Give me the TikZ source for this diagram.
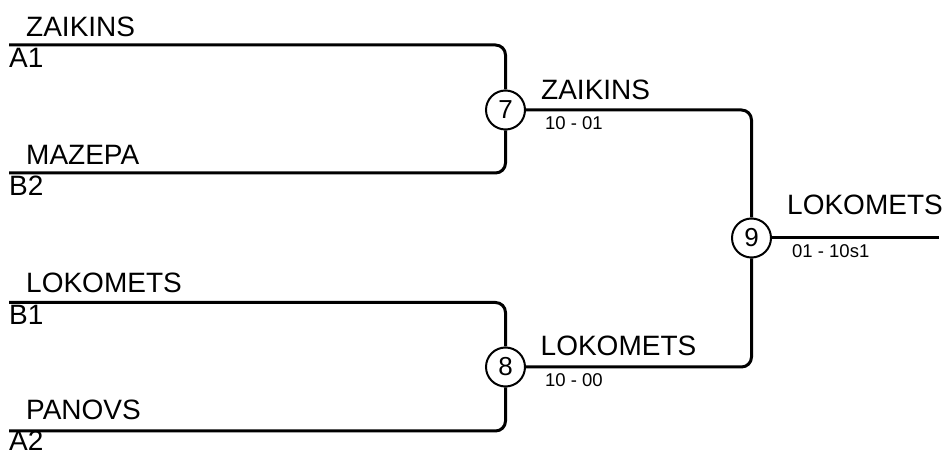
\documentclass[tikz,border=0pt]{standalone}
\usepackage{fontspec}
\setmainfont{Liberation Sans}
\usetikzlibrary{positioning}
\tikzset{x=1pt, y=-1pt, % one unit is one pixel of the sheet
  game/.style={ % the numbered match circles
    circle, draw, line width=2pt,
    minimum size=39pt, inner sep=0pt,
    fill=white,
    font=\fontsize{26}{26}\selectfont},
  team/.style={anchor=base west, inner sep=0pt,
    font=\fontsize{28}{28}\selectfont},
  score/.style={anchor=base west, inner sep=0pt,
    font=\fontsize{18.5}{18.5}\selectfont},
  bracket/.style={draw, line width=3pt, rounded corners=10pt}}

\begin{document}
\begin{tikzpicture}
    \useasboundingbox (0,0) rectangle (946,454);
    % entry lines
    \coordinate (e1) at (9,45);
    \coordinate (e2) at (9,173);
    \coordinate (e3) at (9,302.5);
    \coordinate (e4) at (9,431);
    \coordinate (fin) at (939,238);
    % matches
    \node[game] (g7) at (505.5,110) {7};
    \node[game] (g8) at (505.5,367) {8};
    \node[game] (g9) at (751.5,238) {9};
    \draw[bracket] (e1) -| (g7);
    \draw[bracket] (e2) -| (g7);
    \draw[bracket] (e3) -| (g8);
    \draw[bracket] (e4) -| (g8);
    \draw[bracket] (g7) -| (g9);
    \draw[bracket] (g8) -| (g9);
    \draw[bracket] (g9) -- (fin);
    % first round
    \node[team] (t1) at (26,36.5) {ZAIKINS};
    \node[team] (s1) at (9,68) {A1};
    \node[team] (t2) at (26,164.5) {MAZEPA};
    \node[team] (s2) at (9,196) {B2};
    \node[team] (t3) at (26,293) {LOKOMETS};
    \node[team] (s3) at (9,325) {B1};
    \node[team] (t4) at (26,419.5) {PANOVS};
    \node[team] (s4) at (9,450) {A2};
    % winners
    \node[team] (w7) at (541,100) {ZAIKINS};
    \node[score] (r7) at (545,130) {10 - 01};
    \node[team] (w8) at (540.5,356) {LOKOMETS};
    \node[score] (r8) at (545,386.5) {10 - 00};
    \node[team] (w9) at (787,215) {LOKOMETS};
    \node[score] (r9) at (792,258) {01 - 10s1};
\end{tikzpicture}
\end{document}
